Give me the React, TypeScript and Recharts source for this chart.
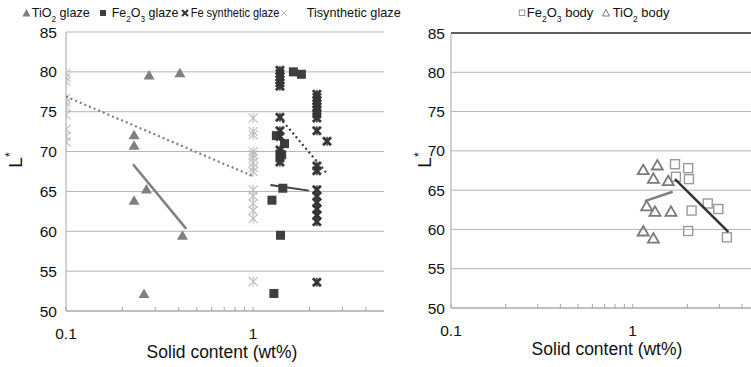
import React from 'react';
import { ScatterChart, Scatter, XAxis, YAxis, CartesianGrid, ReferenceLine, Label } from 'recharts';

// ---------- shared axis data ----------
const xTicks = [0.1, 0.2, 0.3, 0.4, 0.5, 0.6, 0.7, 0.8, 0.9, 1, 2, 3, 4];
const yTicks = [50, 55, 60, 65, 70, 75, 80, 85];
const xAxisTitle = 'Solid content (wt%)';

// ---------- left chart (glazes) ----------
const tio2GlazeX = [0.278, 0.406, 0.231, 0.231, 0.231, 0.269, 0.419, 0.261];
const tio2GlazeY = [79.6, 79.9, 72.1, 70.8, 63.9, 65.3, 59.5, 52.2];

const fe2o3GlazeX = [1.64, 1.81, 1.33, 1.47, 1.42, 1.44, 1.26, 1.4, 1.29];
const fe2o3GlazeY = [80.0, 79.7, 72.0, 71.0, 69.6, 65.4, 63.9, 59.5, 52.2];

const feSynthX = [
  1.39, 1.39, 1.39, 1.39, 1.39, 1.39, 1.39, 1.39, 1.39, 1.39, 1.39, 1.39, 1.39,
  2.19, 2.19, 2.19, 2.19, 2.19, 2.19, 2.19, 2.19, 2.19, 2.19, 2.19, 2.19, 2.19, 2.19, 2.19, 2.19, 2.19, 2.19,
  2.48,
];
const feSynthY = [
  80.2, 79.8, 79.4, 79.0, 78.6, 78.2, 74.3, 72.6, 71.9, 70.2, 69.7, 69.2, 68.7,
  77.2, 76.8, 76.4, 76.0, 75.6, 75.2, 74.7, 74.2, 72.6, 68.2, 67.6, 65.2, 64.4, 63.6, 62.8, 62.0, 61.2, 53.6,
  71.3,
];

const tiSynthX = [
  0.1, 0.1, 0.1, 0.1, 0.1, 0.1, 0.1, 0.1, 0.1, 0.1,
  1, 1, 1, 1, 1, 1, 1, 1, 1, 1, 1, 1, 1, 1, 1,
];
const tiSynthY = [
  79.8, 79.3, 78.8, 76.7, 76.2, 75.6, 74.6, 72.8, 71.9, 71.2,
  74.2, 72.5, 72.1, 70.0, 69.6, 69.2, 68.6, 68.0, 67.5, 65.2, 64.4, 63.5, 62.6, 61.6, 53.7,
];

const tio2GlazeFitX = [0.228, 0.439];
const tio2GlazeFitY = [68.4, 60.3];
const fe2o3GlazeFitX = [1.236, 1.985];
const fe2o3GlazeFitY = [65.8, 65.1];
const tiSynthFitX = [0.1, 1.0];
const tiSynthFitY = [76.9, 66.9];
const feSynthFitX = [1.44, 2.45];
const feSynthFitY = [73.8, 67.4];

// ---------- right chart (bodies) ----------
const tio2BodyX = [1.143, 1.367, 1.3, 1.57, 1.194, 1.327, 1.625, 1.143, 1.3];
const tio2BodyY = [67.6, 68.2, 66.5, 66.2, 63.0, 62.3, 62.3, 59.8, 58.9];
const fe2o3BodyX = [1.71, 2.02, 1.73, 2.04, 2.59, 2.96, 2.11, 2.02, 3.3];
const fe2o3BodyY = [68.3, 67.8, 66.7, 66.4, 63.3, 62.6, 62.4, 59.8, 59.0];
const tio2BodyFitX = [1.167, 1.66];
const tio2BodyFitY = [63.6, 64.8];
const fe2o3BodyFitX = [1.71, 3.36];
const fe2o3BodyFitY = [66.4, 59.7];

const zip = (xs: number[], ys: number[]) => xs.map((x, i) => ({ x, y: ys[i] }));

const FONT = '"Liberation Sans", Arial, sans-serif';
const GRID = '#b4b4b4';
const AXIS = '#a6a6a6';

// ---------- marker shapes ----------
const triFilled = (p: any) => {
  const { cx, cy } = p;
  return <path d={`M${cx},${cy - 5} L${cx + 5.5},${cy + 4.5} L${cx - 5.5},${cy + 4.5} Z`} fill="#7f7f7f" />;
};
const triHollow = (p: any) => {
  const { cx, cy } = p;
  return (
    <path
      d={`M${cx},${cy - 5} L${cx + 5.5},${cy + 4.5} L${cx - 5.5},${cy + 4.5} Z`}
      fill="none"
      stroke="#7a7a7a"
      strokeWidth={1.8}
    />
  );
};
const sqFilled = (p: any) => {
  const { cx, cy } = p;
  return <rect x={cx - 4.5} y={cy - 4.5} width={9} height={9} fill="#3f3f3f" />;
};
const sqHollow = (p: any) => {
  const { cx, cy } = p;
  return <rect x={cx - 4.5} y={cy - 4.5} width={9} height={9} fill="#fff" fillOpacity={0} stroke="#9a9a9a" strokeWidth={1.4} />;
};
const starLight = (p: any) => {
  const { cx, cy } = p;
  return (
    <g stroke="#bdbdbd" strokeWidth={1.1} fill="none">
      <line x1={cx - 4.5} y1={cy - 4.5} x2={cx + 4.5} y2={cy + 4.5} />
      <line x1={cx - 4.5} y1={cy + 4.5} x2={cx + 4.5} y2={cy - 4.5} />
      <line x1={cx} y1={cy - 5} x2={cx} y2={cy + 5} />
    </g>
  );
};
const starDark = (p: any) => {
  const { cx, cy } = p;
  return (
    <g stroke="#363636" fill="none">
      <line x1={cx - 4} y1={cy - 4} x2={cx + 4} y2={cy + 4} strokeWidth={2.8} />
      <line x1={cx - 4} y1={cy + 4} x2={cx + 4} y2={cy - 4} strokeWidth={2.8} />
      <line x1={cx} y1={cy - 4.5} x2={cx} y2={cy + 4.5} strokeWidth={1.5} />
    </g>
  );
};
const noMark = () => <g />;

const tickFmt = (v: number) => (v === 0.1 ? '0.1' : v === 1 ? '1' : '');

const xTitle = (dx: number) => (props: any) => {
  const vb = props.viewBox || {};
  return (
    <text
      x={vb.x + vb.width / 2 + dx}
      y={vb.y + 47}
      textAnchor="middle"
      fontFamily={FONT}
      fontSize={17.5}
      fill="#111"
    >
      {xAxisTitle}
    </text>
  );
};

const yTitle = (bx: number, cy: number) => () => (
  <text
    x={bx}
    y={cy}
    transform={`rotate(-90, ${bx}, ${cy})`}
    textAnchor="middle"
    fontFamily={FONT}
    fontSize={19}
    fill="#111"
  >
    L<tspan fontSize={12} dy={-8}>*</tspan>
  </text>
);

const LeftChart = () => (
  <ScatterChart width={395} height={367} margin={{ top: 32, right: 11, bottom: 0, left: 0 }}>
    <CartesianGrid horizontal vertical={false} stroke={GRID} />
    <XAxis
      type="number"
      dataKey="x"
      scale="log"
      domain={[0.1, 5]}
      allowDataOverflow
      ticks={xTicks}
      interval={0}
      tickFormatter={tickFmt}
      height={56}
      tickSize={-4}
      tickMargin={21}
      stroke={AXIS}
      tick={{ fill: '#111', fontSize: 15.5, fontFamily: FONT }}
    >
      <Label content={xTitle(-3)} />
    </XAxis>
    <YAxis
      type="number"
      dataKey="y"
      domain={[50, 85]}
      ticks={yTicks}
      interval={0}
      width={66}
      tickLine={false}
      tickSize={0}
      tickMargin={9}
      stroke={AXIS}
      tick={{ fill: '#111', fontSize: 15.5, fontFamily: FONT }}
    >
      <Label content={yTitle(22, 160)} />
    </YAxis>
    <YAxis yAxisId="r" orientation="right" width={0} tick={false} tickLine={false} domain={[50, 85]} stroke={AXIS} />
    <Scatter data={zip(tio2GlazeX, tio2GlazeY)} shape={triFilled} isAnimationActive={false} />
    <Scatter data={zip(fe2o3GlazeX, fe2o3GlazeY)} shape={sqFilled} isAnimationActive={false} />
    <Scatter data={zip(feSynthX, feSynthY)} shape={starDark} isAnimationActive={false} />
    <Scatter data={zip(tiSynthX, tiSynthY)} shape={starLight} isAnimationActive={false} />
    <Scatter
      data={zip(tio2GlazeFitX, tio2GlazeFitY)}
      shape={noMark}
      line={{ stroke: '#7f7f7f', strokeWidth: 2.5 }}
      lineType="joint"
      isAnimationActive={false}
    />
    <Scatter
      data={zip(fe2o3GlazeFitX, fe2o3GlazeFitY)}
      shape={noMark}
      line={{ stroke: '#3f3f3f', strokeWidth: 2 }}
      lineType="joint"
      isAnimationActive={false}
    />
    <Scatter
      data={zip(tiSynthFitX, tiSynthFitY)}
      shape={noMark}
      line={{ stroke: '#7f7f7f', strokeWidth: 2.2, strokeDasharray: '2 3' }}
      lineType="joint"
      isAnimationActive={false}
    />
    <Scatter
      data={zip(feSynthFitX, feSynthFitY)}
      shape={noMark}
      line={{ stroke: '#3a3a3a', strokeWidth: 2.2, strokeDasharray: '2 3' }}
      lineType="joint"
      isAnimationActive={false}
    />
  </ScatterChart>
);

const RightChart = () => (
  <ScatterChart width={356} height={367} margin={{ top: 33, right: 0, bottom: 0, left: 0 }}>
    <CartesianGrid horizontal vertical={false} stroke={GRID} />
    <XAxis
      type="number"
      dataKey="x"
      scale="log"
      domain={[0.1, 4.48]}
      allowDataOverflow
      ticks={xTicks}
      interval={0}
      tickFormatter={tickFmt}
      height={59}
      tickSize={-4}
      tickMargin={21}
      stroke={AXIS}
      tick={{ fill: '#111', fontSize: 15.5, fontFamily: FONT }}
    >
      <Label content={xTitle(6)} />
    </XAxis>
    <YAxis
      type="number"
      dataKey="y"
      domain={[50, 85]}
      ticks={yTicks}
      interval={0}
      width={56}
      tickLine={false}
      tickSize={0}
      tickMargin={6}
      stroke={AXIS}
      tick={{ fill: '#111', fontSize: 15.5, fontFamily: FONT }}
    >
      <Label content={yTitle(36, 160)} />
    </YAxis>
    <ReferenceLine y={85} stroke="#333" strokeWidth={1.5} />
    <Scatter data={zip(fe2o3BodyX, fe2o3BodyY)} shape={sqHollow} isAnimationActive={false} />
    <Scatter data={zip(tio2BodyX, tio2BodyY)} shape={triHollow} isAnimationActive={false} />
    <Scatter
      data={zip(tio2BodyFitX, tio2BodyFitY)}
      shape={noMark}
      line={{ stroke: '#7f7f7f', strokeWidth: 2.5 }}
      lineType="joint"
      isAnimationActive={false}
    />
    <Scatter
      data={zip(fe2o3BodyFitX, fe2o3BodyFitY)}
      shape={noMark}
      line={{ stroke: '#333', strokeWidth: 2.5 }}
      lineType="joint"
      isAnimationActive={false}
    />
  </ScatterChart>
);

const sub = { fontSize: 8.5, baselineShift: 'sub' } as any;

const Legends = () => (
  <svg width={751} height={28} style={{ position: 'absolute', left: 0, top: 0, pointerEvents: 'none' }}>
    <g fontFamily={FONT} fontSize={13} fill="#111">
      <path d="M26.5,9 L30.5,16.5 L22.5,16.5 Z" fill="#7f7f7f" />
      <text x={31.7} y={17} textLength={58} lengthAdjust="spacingAndGlyphs">
        TiO<tspan {...sub}>2</tspan> glaze
      </text>
      <rect x={100} y={10} width={6} height={6} fill="#3f3f3f" />
      <text x={111.7} y={17} textLength={66.7} lengthAdjust="spacingAndGlyphs">
        Fe<tspan {...sub}>2</tspan>O<tspan {...sub}>3</tspan> glaze
      </text>
      <g stroke="#363636" strokeWidth={2.2}>
        <line x1={182} y1={10} x2={188} y2={16} />
        <line x1={182} y1={16} x2={188} y2={10} />
      </g>
      <text x={190.7} y={17} textLength={88.6} lengthAdjust="spacingAndGlyphs">
        Fe synthetic glaze
      </text>
      <g stroke="#c4c4c4" strokeWidth={1}>
        <line x1={281} y1={10} x2={287} y2={16} />
        <line x1={281} y1={16} x2={287} y2={10} />
      </g>
      <text x={306.7} y={17} textLength={94} lengthAdjust="spacingAndGlyphs">
        Tisynthetic glaze
      </text>

      <rect x={519.3} y={10} width={5.5} height={5.5} fill="none" stroke="#8a8a8a" strokeWidth={0.9} />
      <text x={526.7} y={17} textLength={66.7} lengthAdjust="spacingAndGlyphs">
        Fe<tspan {...sub}>2</tspan>O<tspan {...sub}>3</tspan> body
      </text>
      <path d="M606,9.5 L609.5,16 L602.5,16 Z" fill="none" stroke="#7a7a7a" strokeWidth={1} />
      <text x={612.7} y={17} textLength={56.7} lengthAdjust="spacingAndGlyphs">
        TiO<tspan {...sub}>2</tspan> body
      </text>
    </g>
  </svg>
);

export default function App() {
  return (
    <div
      style={{
        position: 'absolute',
        left: 0,
        top: 0,
        width: 751,
        height: 367,
        overflow: 'hidden',
        background: '#fff',
      }}
    >
      <div style={{ position: 'absolute', left: 0, top: 0 }}>
        <LeftChart />
      </div>
      <div style={{ position: 'absolute', left: 395, top: 0 }}>
        <RightChart />
      </div>
      <Legends />
    </div>
  );
}
